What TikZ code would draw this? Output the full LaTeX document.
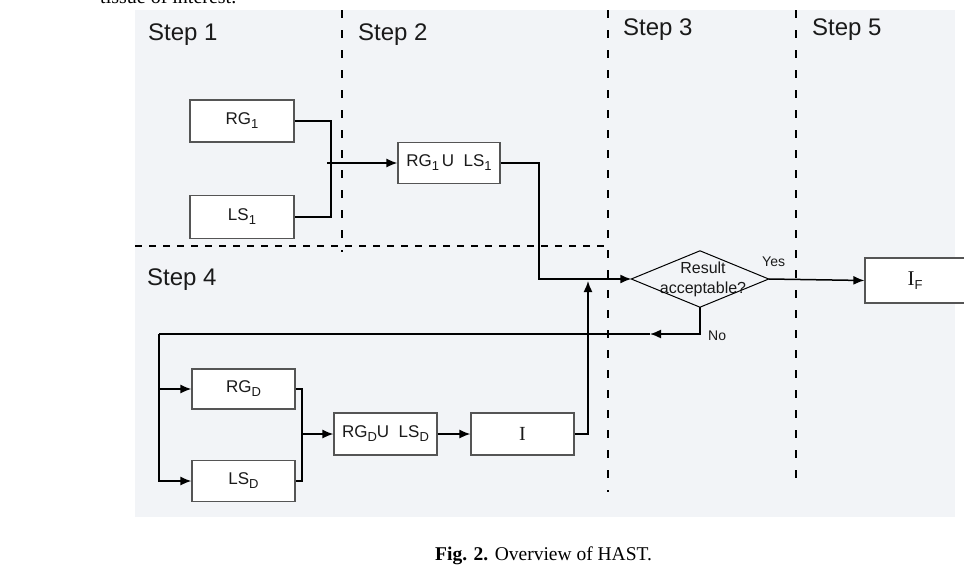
\documentclass[tikz,border=0pt]{standalone}
\usepackage{fontspec}
\setmainfont{Liberation Sans}
\newfontfamily\tnr{Liberation Serif}
\usetikzlibrary{arrows.meta,calc}
\definecolor{panel}{HTML}{F2F4F7}
\definecolor{boxgray}{HTML}{555555}
\definecolor{textdark}{HTML}{1A1A1A}
\newcommand\sbs[1]{\raisebox{-4pt}{\fontsize{13}{13}\selectfont #1}}
\begin{document}
\begin{tikzpicture}[x=1pt,y=-1pt,
  box/.style={draw=boxgray,line width=1.2pt,fill=white,inner sep=0pt,
    font=\fontsize{17}{20}\selectfont,text=textdark},
  conn/.style={line width=1.5pt,draw=black},
  arr/.style={conn,-{Latex[length=11pt,width=9pt]}},
  hdash/.style={line width=1.5pt,dash pattern=on 7pt off 7pt},
  vdash/.style={line width=1.5pt,dash pattern=on 8pt off 12pt},
  steplbl/.style={anchor=base west,inner sep=0pt,font=\fontsize{24}{27}\selectfont,text=textdark},
  smalllbl/.style={anchor=base west,inner sep=0pt,font=\fontsize{14}{16}\selectfont,text=textdark}
]
\useasboundingbox (0,0) rectangle (964,584);
\begin{scope}
\clip (0,0) rectangle (964,584);
\node[anchor=base west,inner sep=0pt,font=\tnr\fontsize{20}{24}\selectfont] (toptext) at (100,3) {tissue of interest.};
\fill[panel] (135,10) rectangle (955,517);

% dashed separators
\draw[vdash] (342,10) -- (342,252);
\draw[hdash] (135,246) -- (610,246);
\draw[vdash] (608,10) -- (608,492);
\draw[vdash] (796,10) -- (796,478);

% step labels
\node[steplbl] (s1) at (148,40) {Step 1};
\node[steplbl] (s2) at (358,40) {Step 2};
\node[steplbl] (s3) at (623,35) {Step 3};
\node[steplbl] (s5) at (812,35) {Step 5};
\node[steplbl] (s4) at (147,285) {Step 4};

% boxes
\node[box,minimum width=104pt,minimum height=42pt] (rg1) at (242,121) {RG\sbs{1}};
\node[box,minimum width=104pt,minimum height=43pt] (ls1) at (242,217) {LS\sbs{1}};
\node[box,minimum width=102pt,minimum height=41pt] (u1) at (449,163) {RG\sbs{1}\,U\ \ LS\sbs{1}};
\node[box,minimum width=103pt,minimum height=40pt] (rgd) at (243.5,389) {RG\sbs{D}};
\node[box,minimum width=103pt,minimum height=41pt] (lsd) at (243.5,481) {LS\sbs{D}};
\node[box,minimum width=103pt,minimum height=42pt] (ud) at (385.5,434) {RG\sbs{D}U\ \ LS\sbs{D}};
\node[box,minimum width=103pt,minimum height=42pt,font=\tnr\fontsize{20}{22}\selectfont] (ib) at (522.5,434) {I};
\node[box,minimum width=100pt,minimum height=45pt] (iff) at (915,280.5) {{\tnr\fontsize{21}{22}\selectfont I}\sbs{F}};

% decision
\node[inner sep=0pt,minimum width=137pt,minimum height=56pt,align=center,
  font=\fontsize{16}{20}\selectfont,text=textdark] (dec) at (700,279) {\hspace*{6pt}Result\\\hspace*{6pt}acceptable?};
\draw[line width=1pt,draw=black] (dec.north) -- (dec.east) -- (dec.south) -- (dec.west) -- cycle;

% junction coordinates
\coordinate (j1) at (331,163);
\coordinate (m) at (539,279);
\coordinate (m2) at (588,279);
\coordinate (n1) at (650,334);
\coordinate (lp) at (159,334);
\coordinate (br) at (302,434);

% connectors
\draw[conn] (rg1.east) -| (j1) |- (ls1.east);
\draw[arr] ($(j1)+(-4,0)$) -- (j1 -| u1.west);
\draw[arr] (u1.east) -| (m) -- (dec.west);
\draw[arr] (ib.east) -| ($(m2)+(0,2)$);
\draw[arr] (dec.east) -- (iff.west);
\node[smalllbl] (yes) at (762,266) {Yes};
\draw[arr] (dec.south) |- (n1);
\draw[conn] (n1) -- (lp);
\draw[arr] (lp) |- (lsd.west);
\draw[arr] (lp |- rgd.west) -- (rgd.west);
\node[smalllbl] (no) at (708,340) {No};
\draw[conn] (rgd.east) -| (br) |- (lsd.east);
\draw[arr] (br) -- (ud.west);
\draw[arr] (ud.east) -- (ib.west);

% caption
\node[anchor=base west,inner sep=0pt,font=\tnr\fontsize{19.5}{22}\selectfont] (cap) at (435,560) {\textbf{Fig. 2.} Overview of HAST.};
\end{scope}
\end{tikzpicture}
\end{document}
